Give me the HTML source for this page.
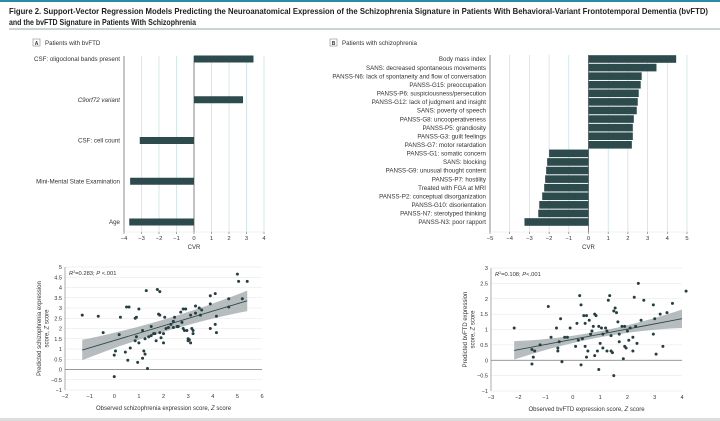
<!DOCTYPE html>
<html><head><meta charset="utf-8">
<style>
html,body{margin:0;padding:0;background:#fff;}
svg{display:block;font-family:"Liberation Sans","Noto Sans CJK SC",sans-serif;}
</style></head>
<body>
<svg id="fig" width="720" height="421" viewBox="0 0 720 421">
  <rect x="0" y="0" width="720" height="2" fill="#2a8aa3"/>
  <text x="9" y="14" font-size="8.4" font-weight="bold" fill="#222" textLength="699" lengthAdjust="spacingAndGlyphs">Figure 2. Support-Vector Regression Models Predicting the Neuroanatomical Expression of the Schizophrenia Signature in Patients With Behavioral-Variant Frontotemporal Dementia (bvFTD)</text>
  <text x="9" y="25" font-size="8.4" font-weight="bold" fill="#222" textLength="187" lengthAdjust="spacingAndGlyphs">and the bvFTD Signature in Patients With Schizophrenia</text>
  <rect x="9" y="28.5" width="711" height="1" fill="#9aa"/>
  <rect x="0" y="418" width="720" height="3" fill="#ddd"/>

  <rect x="33" y="39" width="7" height="7" fill="#fff" stroke="#888" stroke-width="0.6"/>
  <text x="36.5" y="45" font-size="5" text-anchor="middle" font-weight="bold" fill="#333">A</text>
  <text x="45" y="45" font-size="6.2" fill="#333">Patients with bvFTD</text>
  <rect x="330" y="39" width="7" height="7" fill="#fff" stroke="#888" stroke-width="0.6"/>
  <text x="333.5" y="45" font-size="5" text-anchor="middle" font-weight="bold" fill="#333">B</text>
  <text x="342" y="45" font-size="6.2" fill="#333">Patients with schizophrenia</text>

  <g id="gA"></g>
  <g id="gB"></g>
  <g id="gC"></g>
  <g id="gD"></g>
</svg>
<script>
// Panel A data
const aLabels = ["CSF: oligoclonal bands present","C9orf72 variant","CSF: cell count","Mini-Mental State Examination","Age"];
const aValues = [3.4, 2.8, -3.1, -3.65, -3.7];
const aTicks = [-4,-3,-2,-1,0,1,2,3,4];
// Panel B data
const bLabels = ["Body mass index","SANS: decreased spontaneous movements","PANSS-N6: lack of spontaneity and flow of conversation","PANSS-G15: preoccupation","PANSS-P6: suspiciousness/persecution","PANSS-G12: lack of judgment and insight","SANS: poverty of speech","PANSS-G8: uncooperativeness","PANSS-P5: grandiosity","PANSS-G3: guilt feelings","PANSS-G7: motor retardation","PANSS-G1: somatic concern","SANS: blocking","PANSS-G9: unusual thought content","PANSS-P7: hostility","Treated with FGA at MRI","PANSS-P2: conceptual disorganization","PANSS-G10: disorientation","PANSS-N7: sterotyped thinking","PANSS-N3: poor rapport"];
const bValues = [4.45,3.45,2.7,2.65,2.55,2.5,2.45,2.3,2.25,2.25,2.2,-2.0,-2.1,-2.15,-2.2,-2.25,-2.35,-2.5,-2.55,-3.25];
const bTicks = [-5,-4,-3,-2,-1,0,1,2,3,4,5];
// Scatter C data
const cX = [-1.3,-0.65,-0.45,0,0,0.05,0.2,0.25,0.45,0.5,0.6,0.55,0.65,0.85,0.9,0.85,0.9,0.95,1.0,1.0,1.15,1.15,1.2,1.25,1.3,1.25,1.35,1.4,1.5,1.5,1.6,1.65,1.7,1.75,1.8,1.85,1.85,1.85,1.9,2.0,2.0,2.05,2.1,2.2,2.3,2.4,2.4,2.45,2.55,2.6,2.7,2.75,2.8,2.8,2.85,2.9,2.95,3.0,3.0,3.05,3.1,3.1,3.15,3.2,3.2,3.3,3.3,3.45,3.5,3.55,3.9,3.9,3.9,4.1,4.1,4.15,4.15,4.65,4.65,5.0,5.05,5.2,5.4];
const cY = [2.65,2.6,1.8,-0.35,0.7,0.9,1.7,2.55,0.85,3.05,3.05,0.45,1.05,2.5,2.55,1.4,1.6,0.35,2.95,1.3,1.9,0.55,0.9,0.75,3.85,1.5,0.05,1.6,1.65,2.1,1.75,1.75,1.4,3.9,2.7,3.8,2.65,1.8,1.55,1.75,1.3,2.55,2.0,2.05,2.2,2.35,2.05,2.55,2.1,2.1,2.8,2.3,2.95,2.0,1.9,2.95,1.9,1.4,1.5,1.45,2.65,1.3,2.0,1.9,1.75,3.1,2.75,3.0,2.65,2.9,3.2,3.6,2.0,3.7,2.2,1.8,2.6,3.45,3.05,4.65,4.3,3.45,4.3];
const cFitX = [-1.3, 5.4];
const cFitY = [0.95, 3.35];
const cXTicks = [-2,-1,0,1,2,3,4,5,6];
const cYTicks = [-1,-0.5,0,0.5,1,1.5,2,2.5,3,3.5,4,4.5,5];
// Scatter D data
const dX = [-2.15,-1.5,-1.45,-1.5,-1.4,-1.2,-0.9,-0.8,-0.6,-0.55,-0.55,-0.5,-0.45,-0.4,-0.3,-0.2,-0.1,0.1,0.15,0.2,0.25,0.3,0.3,0.35,0.4,0.45,0.5,0.45,0.5,0.55,0.6,0.65,0.7,0.75,0.8,0.85,0.9,0.95,0.95,1.0,1.05,1.1,1.2,1.25,1.25,1.3,1.35,1.4,1.4,1.45,1.5,1.5,1.55,1.6,1.65,1.7,1.7,1.8,1.85,1.9,1.95,2.0,2.05,2.1,2.2,2.25,2.3,2.35,2.4,2.5,2.6,2.95,2.95,3.0,3.05,3.2,3.3,3.45,3.65,4.15,1.1,0.8,1.9,2.2];
const dY = [1.05,-0.12,0.1,0.35,0.3,0.5,1.75,0.75,1.05,0.3,0.4,0.6,1.35,-0.05,0.75,0.75,1.05,0.45,1.2,0.65,2.1,1.8,-0.15,0.7,1.45,1.2,1.45,0.45,0.1,0.3,1.3,0.85,0.95,1.1,1.5,1.45,0.3,1.1,-0.3,0.55,1.05,0.85,1.05,0.95,0.3,1.95,2.1,0.8,0.3,0.25,-0.5,1.6,1.7,1.55,1.25,0.6,0.85,1.1,0.05,0.45,0.4,0.95,0.65,1.05,0.75,2.05,1.1,0.55,2.5,1.3,1.95,1.8,0.85,1.35,0.2,1.5,0.45,1.55,1.85,2.25,0.4,0.15,1.1,0.3];
const dFitX = [-2.15, 4.0];
const dFitY = [0.32, 1.35];
const dXTicks = [-3,-2,-1,0,1,2,3,4];
const dYTicks = [-1,-0.5,0,0.5,1,1.5,2,2.5,3];

const NS = "http://www.w3.org/2000/svg";
function mk(parent, tag, attrs, text){
  const e = document.createElementNS(NS, tag);
  for (const k in attrs) e.setAttribute(k, attrs[k]);
  if (text !== undefined) e.textContent = text;
  parent.appendChild(e);
  return e;
}
const BAR = "#2d4a4c";

function barChart(g, labels, values, ticks, x0px, x1px, yTop, yBottom, firstC, lastC, barH, labelX, prefix){
  const tmin = ticks[0], tmax = ticks[ticks.length-1];
  const sx = v => x0px + (v - tmin) / (tmax - tmin) * (x1px - x0px);
  const n = labels.length;
  const sy = i => n === 1 ? firstC : firstC + i * (lastC - firstC) / (n - 1);
  ticks.forEach(t => {
    const gl = mk(g, "line", {x1: sx(t), x2: sx(t), y1: yTop, y2: yBottom, stroke: t === 0 ? "#666" : "#bfe0e6", "stroke-width": t === 0 ? 0.8 : 0.7});
    
    
    const tk = mk(g, "line", {x1: sx(t), x2: sx(t), y1: yBottom, y2: yBottom + 2, stroke: "#666", "stroke-width": 0.6});
    
    
    const tl = mk(g, "text", {x: sx(t), y: yBottom + 8, "font-size": 5.8, "text-anchor": "middle", fill: "#333"}, String(t).replace("-", "\u2212"));
    
    
  });
  const ax = mk(g, "line", {x1: x0px, x2: x0px, y1: yTop, y2: yBottom, stroke: "#666", "stroke-width": 0.7});
  
  
  const axb = mk(g, "line", {x1: x0px, x2: x1px, y1: yBottom, y2: yBottom, stroke: "#ccc", "stroke-width": 0.3});
  
  
  const cvr = mk(g, "text", {x: sx(0), y: yBottom + 17, "font-size": 6, "text-anchor": "middle", fill: "#333"}, "CVR");
  
  
  labels.forEach((lab, i) => {
    const v = values[i];
    const c = sy(i);
    const r = mk(g, "rect", {x: Math.min(sx(0), sx(v)), y: c - barH/2, width: Math.abs(sx(v) - sx(0)), height: barH, fill: BAR});
    
    
    const t = mk(g, "text", {x: labelX, y: c + 2.2, "font-size": 6.2, "text-anchor": "end", fill: "#333"}, lab);
    if (lab === "C9orf72 variant") t.setAttribute("font-style", "italic");
    
    
  });
}

barChart(document.getElementById("gA"), aLabels, aValues, aTicks, 124, 264, 56, 232, 59, 222, 7, 120, "panel-a");
barChart(document.getElementById("gB"), bLabels, bValues, bTicks, 490, 687, 55, 232, 59, 222, 7.6, 486, "panel-b");

function scatter(g, xs, ys, fx, fy, xt, yt, X0, X1, Y0, Y1, stat, xTitle, yTitle1, yTitle2, prefix, band){
  const sx = v => X0 + (v - xt[0]) / (xt[xt.length-1] - xt[0]) * (X1 - X0);
  const sy = v => Y1 - (v - yt[0]) / (yt[yt.length-1] - yt[0]) * (Y1 - Y0);
  yt.forEach(t => {
    const gl = mk(g, "line", {x1: X0, x2: X1, y1: sy(t), y2: sy(t), stroke: t === 0 ? "#777" : "#e4e4e4", "stroke-width": t === 0 ? 0.7 : 0.5});
    
    
    const tl = mk(g, "text", {x: X0 - 3, y: sy(t) + 2, "font-size": 5.6, "text-anchor": "end", fill: "#333"}, String(t).replace("-", "\u2212"));
    
    
  });
  xt.forEach(t => {
    const tl = mk(g, "text", {x: sx(t), y: Y1 + 8, "font-size": 5.6, "text-anchor": "middle", fill: "#333"}, String(t).replace("-", "\u2212"));
    
    
  });
  const ya = mk(g, "line", {x1: X0, x2: X0, y1: Y0, y2: Y1, stroke: "#777", "stroke-width": 0.6});
  
  
  const x0 = fx[0], x1 = fx[1];
  const xm = (x0 + x1) / 2;
  const slope = (fy[1] - fy[0]) / (x1 - x0);
  const f = x => fy[0] + slope * (x - x0);
  let up = [], lo = [];
  for (let k = 0; k <= 20; k++){
    const x = x0 + (x1 - x0) * k / 20;
    const w = band[0] + band[1] * Math.pow((x - xm) / ((x1 - x0) / 2), 2);
    up.push(sx(x) + "," + sy(f(x) + w));
    lo.unshift(sx(x) + "," + sy(f(x) - w));
  }
  const bp = mk(g, "polygon", {points: up.concat(lo).join(" "), fill: "#9fa7a8", opacity: 0.75});
  
  
  const fl = mk(g, "line", {x1: sx(fx[0]), y1: sy(fy[0]), x2: sx(fx[1]), y2: sy(fy[1]), stroke: "#2d4a4c", "stroke-width": 0.9});
  
  
  xs.forEach((x, i) => {
    const c = mk(g, "circle", {cx: sx(x), cy: sy(ys[i]), r: 1.5, fill: "#253f41"});
    
    
  });
  const st = mk(g, "text", {x: X0 + 4, y: Y0 + 8, "font-size": 5.8, fill: "#333"});
  
  
  st.innerHTML = stat;
  const xtl = mk(g, "text", {x: (X0 + X1) / 2, y: Y1 + 20, "font-size": 6, "text-anchor": "middle", fill: "#333"});
  xtl.innerHTML = xTitle;
  
  
  const cy = (Y0 + Y1) / 2;
  const lx = X0 - 24;
  const yl = mk(g, "text", {transform: "translate(" + lx + "," + cy + ") rotate(-90)", "font-size": 6, "text-anchor": "middle", fill: "#333"});
  yl.innerHTML = '<tspan x="0" dy="0">' + yTitle1 + '</tspan><tspan x="0" dy="7.5">' + yTitle2 + '</tspan>';
  
  
}

scatter(document.getElementById("gC"), cX, cY, cFitX, cFitY, cXTicks, cYTicks, 65, 262, 267, 390,
  '<tspan font-style="italic">R</tspan><tspan font-size="3.5" dy="-2">2</tspan><tspan dy="2">=0.283; </tspan><tspan font-style="italic">P</tspan> &lt;.001',
  'Observed schizophrenia expression score, <tspan font-style="italic">Z</tspan> score',
  'Predicted schizophrenia expression', 'score, <tspan font-style="italic">Z</tspan> score', "scatter-a", [0.3, 0.2]);
scatter(document.getElementById("gD"), dX, dY, dFitX, dFitY, dXTicks, dYTicks, 491, 682, 268, 391,
  '<tspan font-style="italic">R</tspan><tspan font-size="3.5" dy="-2">2</tspan><tspan dy="2">=0.108; </tspan><tspan font-style="italic">P</tspan>&lt;.001',
  'Observed bvFTD expression score, <tspan font-style="italic">Z</tspan> score',
  'Predicted bvFTD expression', 'score, <tspan font-style="italic">Z</tspan> score', "scatter-b", [0.1, 0.2]);
</script>
</body></html>
